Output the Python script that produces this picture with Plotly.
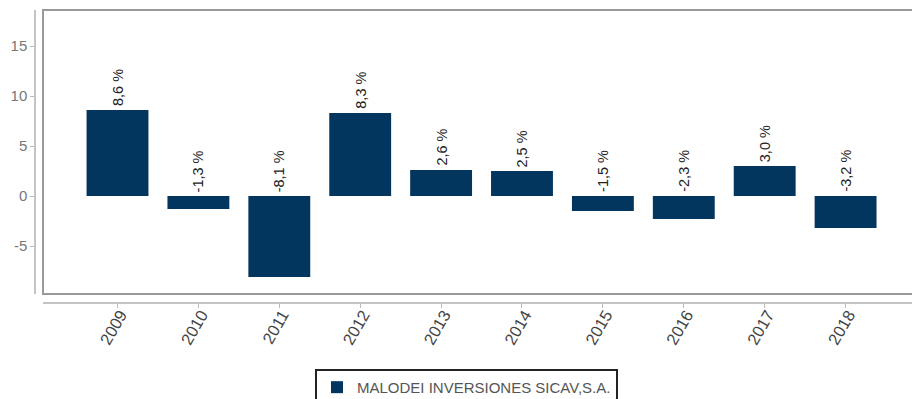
import plotly.graph_objects as go

# Annual returns by year
years = ["2009", "2010", "2011", "2012", "2013", "2014", "2015", "2016", "2017", "2018"]
returns = [8.6, -1.3, -8.1, 8.3, 2.6, 2.5, -1.5, -2.3, 3.0, -3.2]
series_name = "MALODEI INVERSIONES SICAV,S.A."
y_ticks = [-5, 0, 5, 10, 15]
y_tick_text = ["-5", "0", "5", "10", "15"]

BAR_COLOR = "#03365f"
FONT = "Liberation Sans, Arial, sans-serif"
W, H = 912, 399
ML, MT, MB, MR = 35, 10, 96, 0

plot_w = W - ML - MR
plot_h = H - MT - MB
x_dom0 = (43 - ML) / plot_w          # frame starts a little right of the y axis line
y_dom0 = (303 - 294) / plot_h        # frame bottom sits a little above the x axis line


def fmt(v):
    return f"{v:.1f} %".replace(".", ",")


fig = go.Figure()
fig.add_trace(go.Bar(
    x=years,
    y=returns,
    name=series_name,
    marker=dict(color=BAR_COLOR, line=dict(width=0)),
    width=0.765,
    showlegend=True,
))

# Rotated value labels: above the bar for gains, just above zero for losses
for i, v in enumerate(returns):
    fig.add_annotation(
        xref="x", yref="y",
        x=i, y=max(v, 0), text=fmt(v), textangle=-90,
        showarrow=False, xanchor="center", yanchor="bottom", yshift=2,
        font=dict(family=FONT, size=14.5, color="#222"),
    )

# Grey frame around the plotting area (top, left, bottom; open to the right)
fig.add_shape(type="rect", xref="paper", yref="paper",
              x0=x_dom0, x1=1.05, y0=y_dom0, y1=1,
              line=dict(color="#9a9a9a", width=2), fillcolor="rgba(0,0,0,0)")

fig.update_layout(
    width=W, height=H,
    margin=dict(l=ML, r=MR, t=MT, b=MB, autoexpand=False),
    paper_bgcolor="white", plot_bgcolor="white",
    xaxis=dict(
        domain=[x_dom0, 1],
        type="category",
        range=[-0.921, 9.821],
        anchor="free", position=0,
        showline=True, linecolor="#c4c4c4", linewidth=1.5,
        ticks="outside", ticklen=4, tickcolor="#bbbbbb", tickwidth=1,
        tickangle=-60,
        ticklabelstandoff=-9, ticklabelshift=3,
        tickfont=dict(family=FONT, size=16.5, color="#444"),
        showgrid=False, zeroline=False,
    ),
    yaxis=dict(
        domain=[y_dom0, 1],
        range=[-9.8, 18.6],
        anchor="free", position=0,
        tickvals=y_ticks, ticktext=y_tick_text,
        showline=True, linecolor="#c4c4c4", linewidth=1.5,
        ticks="outside", ticklen=4, tickcolor="#bbbbbb", tickwidth=1,
        tickfont=dict(family=FONT, size=15, color="#777"),
        showgrid=False, zeroline=False,
    ),
    legend=dict(
        orientation="h",
        x=0.492, xanchor="center",
        y=-0.225, yanchor="top",
        bordercolor="#222", borderwidth=2,
        bgcolor="white",
        font=dict(family=FONT, size=15, color="#555"),
    ),
)

fig.write_html("out.html")
